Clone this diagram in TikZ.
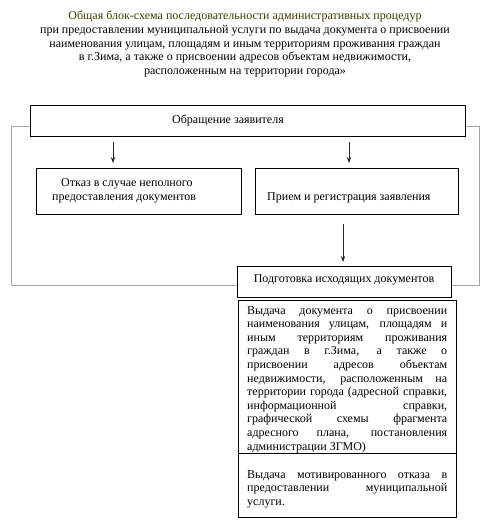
\documentclass[tikz,border=0pt]{standalone}
\usepackage{fontspec}
\setmainfont{Liberation Serif}
\usetikzlibrary{arrows.meta}
\definecolor{titleolive}{RGB}{60,60,0}
\definecolor{framegray}{RGB}{165,165,165}
\definecolor{arrgray}{RGB}{40,40,40}
\tikzset{
  txt/.style={font=\fontsize{12}{13.6}\selectfont, inner sep=0pt},
  boxc/.style={draw=black, line width=1pt, inner sep=0pt},
  arr/.style={draw=arrgray, line width=1pt, -{Stealth[length=6pt,width=4.5pt]}},
}
\begin{document}
\begin{tikzpicture}[x=1pt,y=-1pt]
\useasboundingbox (0,0) rectangle (494,523);
% title
\node[txt, align=center] (title) at (245,44) {{\color{titleolive}Общая блок-схема последовательности административных процедур}\\
при предоставлении муниципальной услуги по выдача документа о присвоении\\
наименования улицам, площадям и иным территориям проживания граждан\\
в г.Зима, а также о присвоении адресов объектам недвижимости,\\
расположенным на территории города»};
% gray frame
\draw[framegray, line width=1pt] (11,285) -- (11,126) -- (30,126);
\draw[framegray, line width=1pt] (465,126) -- (479,126) -- (479,285) -- (237,285);
\draw[framegray, line width=1pt] (11,285) -- (237,285);
% boxes
\node[boxc, minimum width=435pt, minimum height=31pt, anchor=north west] (top) at (30,105) {};
\node[txt] (toptext) at (228,120) {Обращение заявителя};
\node[boxc, minimum width=205pt, minimum height=46pt, anchor=north west] (lbox) at (36,168) {};
\node[txt, anchor=base west] (l1) at (61,186) {Отказ в случае неполного};
\node[txt, anchor=base west] (l2) at (52,200) {предоставления документов};
\node[boxc, minimum width=203pt, minimum height=46pt, anchor=north west] (rbox) at (255,168) {};
\node[txt, anchor=base west] (r1) at (267,200) {Прием и регистрация заявления};
\node[boxc, fill=white, minimum width=214pt, minimum height=31pt, anchor=north west] (prep) at (237,266) {};
\node[txt] (preptext) at (344,280) {Подготовка исходящих документов};
\node[boxc, minimum width=218pt, minimum height=153pt, anchor=north west] (big) at (238,300) {};
\node[boxc, minimum width=218pt, minimum height=64pt, anchor=north west] (ref) at (238,453) {};
\node[txt, text width=200pt, align=justify, anchor=north west] (bigtext) at (247,306) {Выдача документа о присвоении\linebreak
наименования улицам, площадям и\linebreak
иным территориям проживания\linebreak
граждан в г.Зима, а также о\linebreak
присвоении адресов объектам\linebreak
недвижимости, расположенным на\linebreak
территории города (адресной справки,\linebreak
информационной справки,\linebreak
графической схемы фрагмента\linebreak
адресного плана, постановления\linebreak
администрации ЗГМО)};
\node[txt, text width=200pt, align=justify, anchor=north west] (reftext) at (247,470) {Выдача мотивированного отказа в\linebreak
предоставлении муниципальной\linebreak
услуги.};
% arrows
\coordinate (xa) at (113,0);
\coordinate (xb) at (349,0);
\coordinate (xc) at (343,0);
\draw[arr, shorten <=5pt, shorten >=5pt] (top.south -| xa) -- (lbox.north -| xa);
\draw[arr, shorten <=5pt, shorten >=5pt] (top.south -| xb) -- (rbox.north -| xb);
\draw[arr, shorten <=9pt, shorten >=4pt] (rbox.south -| xc) -- (prep.north -| xc);
\end{tikzpicture}
\end{document}
